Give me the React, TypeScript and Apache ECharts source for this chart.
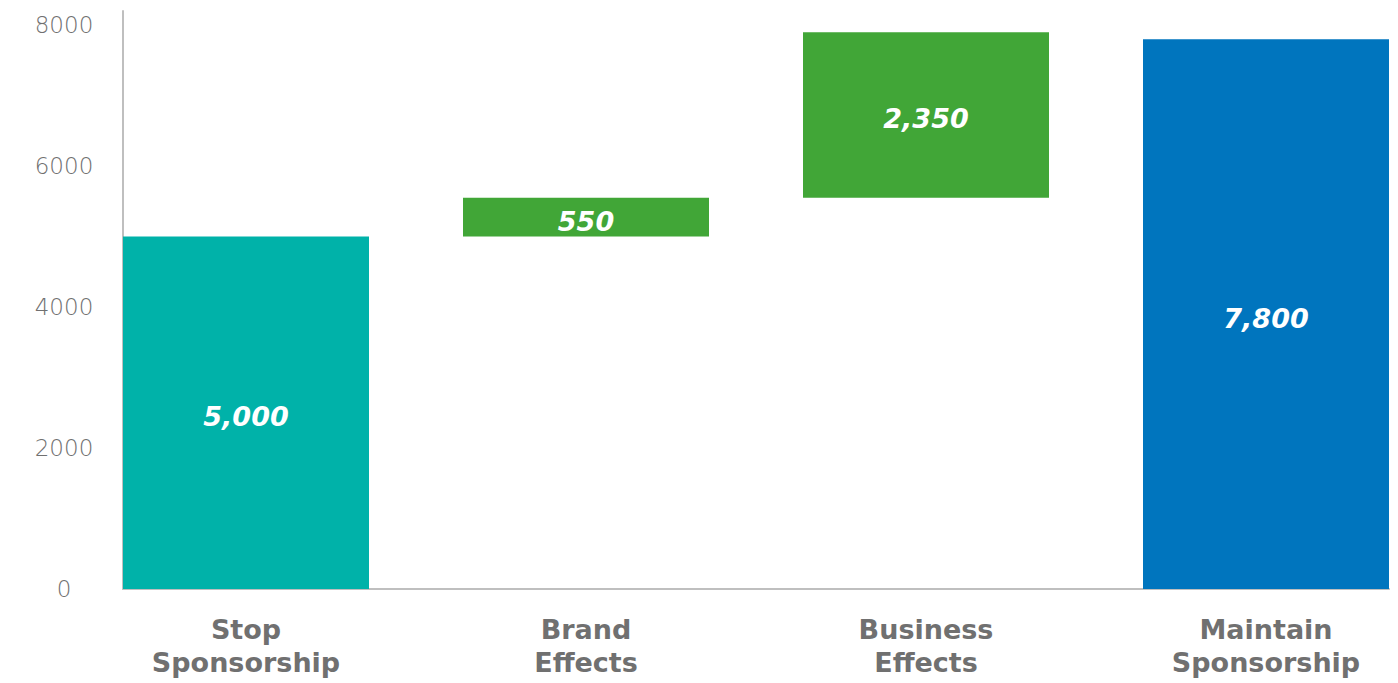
import React, { useEffect, useRef } from "react";
import * as echarts from "echarts";

const categories = ["Stop\nSponsorship", "Brand\nEffects", "Business\nEffects", "Maintain\nSponsorship"];
const baseValues = [0, 5000, 5550, 0];
const deltaValues = [5000, 550, 2350, 7800];
const barColors = ["#00B2A9", "#41A637", "#0075BE"];
const colorIndex = [0, 1, 1, 2];
const yTicks = { min: 0, max: 8200, interval: 2000 };

export default function App() {
  const ref = useRef<HTMLDivElement>(null);
  useEffect(() => {
    if (!ref.current) return;
    const chart = echarts.init(ref.current, null, { renderer: "svg" });
    const gridTop = 11;
    const gridBottom = 94;
    chart.setOption({
      animation: false,
      backgroundColor: "#ffffff",
      grid: [
        { left: 76, right: -38, top: gridTop, bottom: gridBottom, outerBoundsMode: "none", containLabel: false },
        { left: 123, right: 9, top: gridTop, bottom: gridBottom, outerBoundsMode: "none", containLabel: false },
      ],
      xAxis: [
        {
          type: "category",
          gridIndex: 0,
          data: categories,
          axisLine: { show: false },
          axisTick: { show: false },
          axisLabel: {
            color: "#707070",
            fontFamily: "DejaVu Sans",
            fontWeight: 700,
            fontSize: 27,
            lineHeight: 33,
            margin: 24,
          },
        },
        {
          type: "category",
          gridIndex: 1,
          data: ["a"],
          axisLine: { show: true, lineStyle: { color: "#BFBFBF", width: 2 } },
          axisTick: { show: false },
          axisLabel: { show: false },
        },
      ],
      yAxis: [
        {
          type: "value",
          gridIndex: 0,
          min: yTicks.min,
          max: yTicks.max,
          interval: yTicks.interval,
          offset: -47,
          axisLine: { show: true, lineStyle: { color: "#BFBFBF", width: 2 } },
          axisTick: { show: false },
          splitLine: { show: false },
          axisLabel: {
            color: "#707070",
            fontFamily: "DejaVu Sans",
            fontWeight: 200,
            fontSize: 23,
            align: "center",
            margin: 59,
            formatter: (v: number) => (v % yTicks.interval === 0 ? String(v) : ""),
          },
        },
        {
          type: "value",
          gridIndex: 1,
          min: yTicks.min,
          max: yTicks.max,
          show: false,
        },
      ],
      series: [
        {
          type: "bar",
          stack: "w",
          xAxisIndex: 0,
          yAxisIndex: 0,
          barWidth: 246,
          itemStyle: { color: "transparent" },
          data: baseValues,
          silent: true,
        },
        {
          type: "bar",
          stack: "w",
          xAxisIndex: 0,
          yAxisIndex: 0,
          barWidth: 246,
          data: deltaValues.map((v, i) => ({
            value: v,
            itemStyle: { color: barColors[colorIndex[i]] },
          })),
          label: {
            show: true,
            position: "inside",
            offset: [0, 4],
            color: "#ffffff",
            fontFamily: "DejaVu Sans",
            fontStyle: "italic",
            fontWeight: 700,
            fontSize: 27,
            formatter: (p: any) => Number(p.value).toLocaleString("en-US"),
          },
        },
      ],
    });
    return () => chart.dispose();
  }, []);
  return (
    <div
      ref={ref}
      style={{ position: "fixed", left: 0, top: 0, width: 1398, height: 683 }}
    />
  );
}
